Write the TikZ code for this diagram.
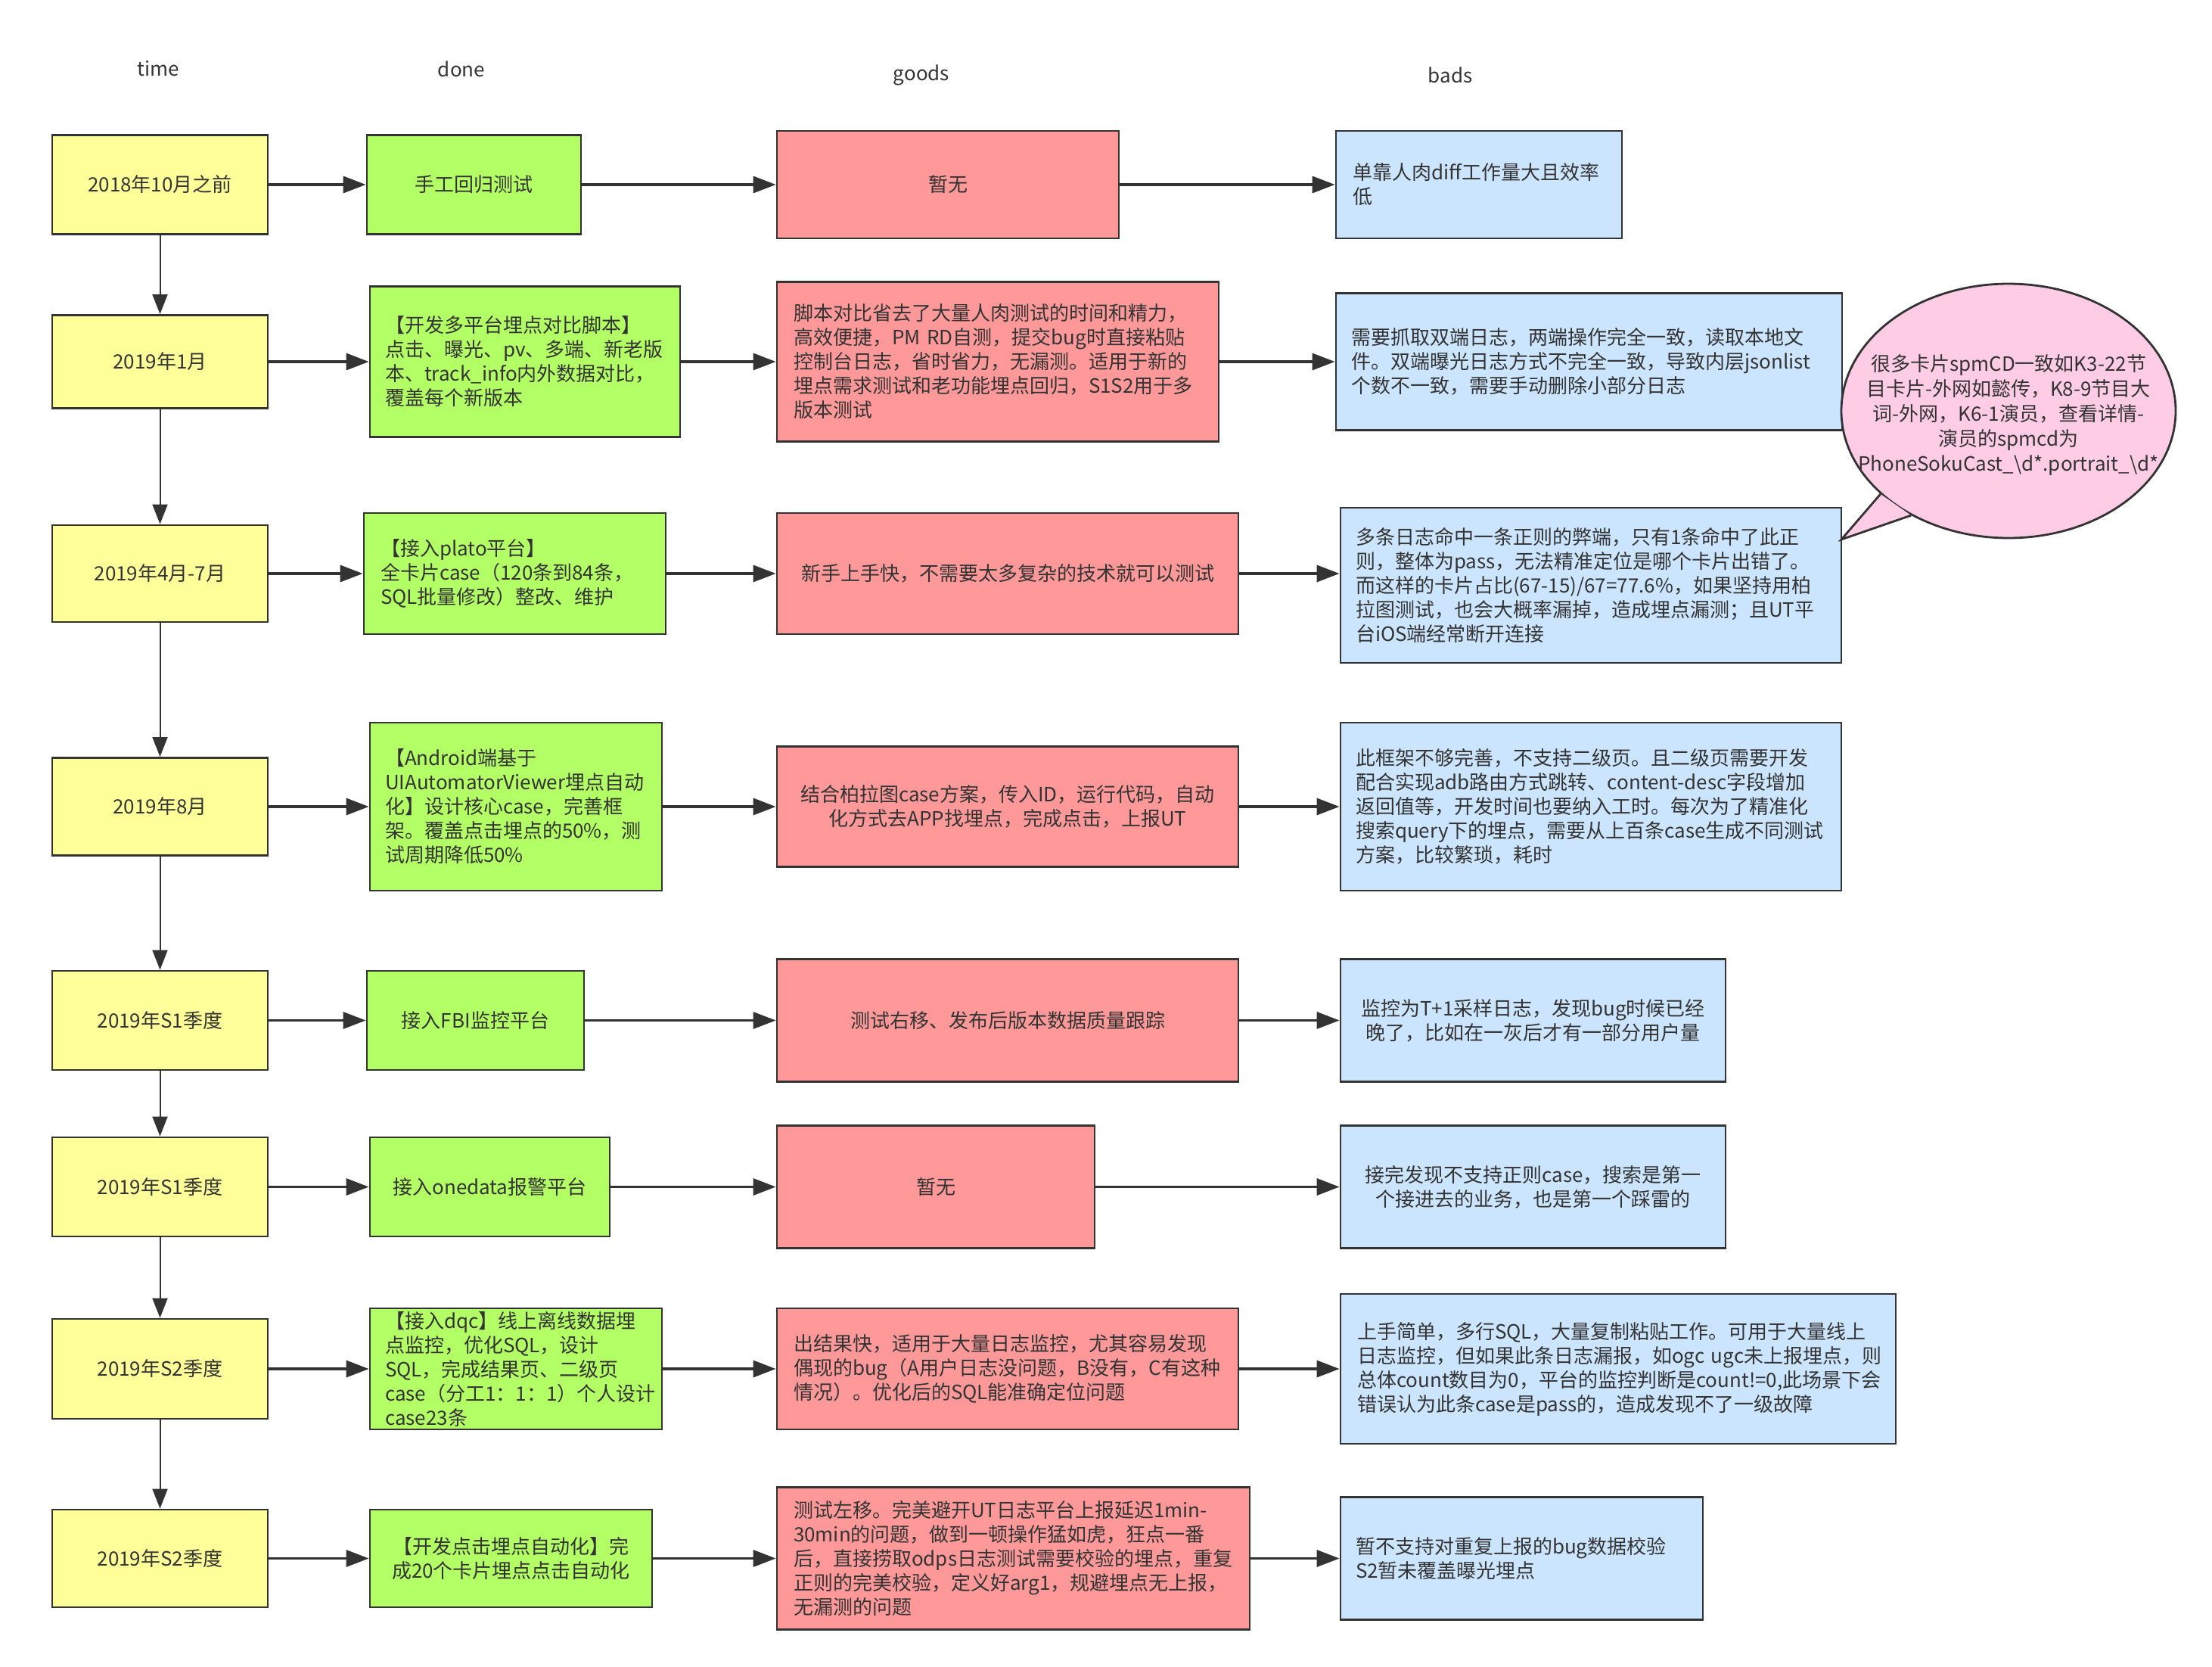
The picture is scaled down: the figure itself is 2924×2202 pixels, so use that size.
\documentclass[tikz,border=0pt]{standalone}
\usepackage{fontspec}
\setmainfont{Noto Sans CJK SC}
\usetikzlibrary{arrows.meta,shapes.geometric}
\definecolor{ink}{HTML}{333333}
\definecolor{cyellow}{HTML}{FFFF99}
\definecolor{cgreen}{HTML}{B3FF66}
\definecolor{cred}{HTML}{FF9999}
\definecolor{cblue}{HTML}{CCE5FF}
\definecolor{cpink}{HTML}{FFCCE6}
\begin{document}
\begin{tikzpicture}[x=0.5pt,y=-0.5pt,
  box/.style={draw=ink, line width=1.4pt, text=ink, inner sep=0pt, font=\fontsize{13pt}{16pt}\selectfont, align=center},
  yelbox/.style={box, fill=cyellow},
  grnbox/.style={box, fill=cgreen},
  redbox/.style={box, fill=cred},
  blubox/.style={box, fill=cblue},
  hdr/.style={text=ink, font=\fontsize{13pt}{16pt}\selectfont},
  harr/.style={draw=ink, line width=1.7pt, -{Triangle[length=15pt,width=11pt]}},
  varr/.style={draw=ink, line width=1pt, -{Triangle[length=13pt,width=10pt]}},
]
\fill[white] (0,0) rectangle (2924,2202);
\useasboundingbox (0,0) rectangle (2924,2202);

% headers
\node[hdr] (h1) at (209,91) {time};
\node[hdr] (h2) at (610,91) {done};
\node[hdr] (h3) at (1218,99) {goods};
\node[hdr] (h4) at (1917,99) {bads};

% row 1
\node[yelbox, minimum width=142.5pt, minimum height=65.5pt] (t1) at (211.5,244) {2018年10月之前};
\node[grnbox, minimum width=141.5pt, minimum height=65.5pt] (d1) at (626.5,244) {手工回归测试};
\node[redbox, minimum width=226pt, minimum height=71pt] (g1) at (1253,244) {暂无};
\node[blubox, minimum width=189pt, minimum height=71pt, align=left, text width=167pt] (b1) at (1955,244) {单靠人肉diff工作量大且效率\\低};

% row 2
\node[yelbox, minimum width=142.5pt, minimum height=61.5pt] (t2) at (211.5,478) {2019年1月};
\node[grnbox, minimum width=205pt, minimum height=99.5pt, align=left, text width=185pt] (d2) at (694,478) {【开发多平台埋点对比脚本】\\点击、曝光、pv、多端、新老版\\本、track\_info内外数据对比，\\覆盖每个新版本};
\node[redbox, minimum width=292pt, minimum height=105.5pt, align=left, text width=270pt] (g2) at (1319,478) {脚本对比省去了大量人肉测试的时间和精力，\\高效便捷，PM~RD自测，提交bug时直接粘贴\\控制台日志，省时省力，无漏测。适用于新的\\埋点需求测试和老功能埋点回归，S1S2用于多\\版本测试};
\node[blubox, minimum width=334.5pt, minimum height=90.5pt, align=left, text width=314pt] (b2) at (2100.5,478) {需要抓取双端日志，两端操作完全一致，读取本地文\\件。双端曝光日志方式不完全一致，导致内层jsonlist\\个数不一致，需要手动删除小部分日志};

% row 3
\node[yelbox, minimum width=142.5pt, minimum height=64pt] (t3) at (211.5,758) {2019年4月-7月};
\node[grnbox, minimum width=199.5pt, minimum height=80pt, align=left, text width=177.5pt] (d3) at (680.5,758) {【接入plato平台】\\全卡片case（120条到84条，\\SQL批量修改）整改、维护};
\node[redbox, minimum width=305pt, minimum height=80pt] (g3) at (1332,758) {新手上手快，不需要太多复杂的技术就可以测试};
\node[blubox, minimum width=331pt, minimum height=102.5pt, align=left, text width=311pt] (b3) at (2103,773.5) {多条日志命中一条正则的弊端，只有1条命中了此正\\则，整体为pass，无法精准定位是哪个卡片出错了。\\而这样的卡片占比(67-15)/67=77.6\%，如果坚持用柏\\拉图测试，也会大概率漏掉，造成埋点漏测；且UT平\\台iOS端经常断开连接};

% speech bubble
\node[ellipse, draw=ink, line width=1.4pt, fill=cpink, minimum width=221pt, minimum height=168pt, inner sep=0pt] (bub) at (2655,543) {};
\coordinate (tip) at (2434,713);
\fill[cpink] (tip) -- (bub.213) -- (bub.227) -- cycle;
\draw[ink, line width=1.4pt, line join=miter] (bub.213) -- (tip) -- (bub.227);
\node[text=ink, font=\fontsize{13pt}{16.5pt}\selectfont, align=center, inner sep=0pt] (bubtxt) at (2655,549) {很多卡片spmCD一致如K3-22节\\目卡片-外网如懿传，K8-9节目大\\词-外网，K6-1演员，查看详情-\\演员的spmcd为\\PhoneSokuCast\_\textbackslash d*.portrait\_\textbackslash d*};

% row 4
\node[yelbox, minimum width=142.5pt, minimum height=64.5pt] (t4) at (211.5,1066) {2019年8月};
\node[grnbox, minimum width=193pt, minimum height=111pt, align=left, text width=173pt] (d4) at (682,1066) {【Android端基于\\UIAutomatorViewer埋点自动\\化】设计核心case，完善框\\架。覆盖点击埋点的50\%，测\\试周期降低50\%};
\node[redbox, minimum width=305pt, minimum height=79.5pt] (g4) at (1332,1066) {结合柏拉图case方案，传入ID，运行代码，自动\\化方式去APP找埋点，完成点击，上报UT};
\node[blubox, minimum width=331pt, minimum height=111pt, align=left, text width=311pt] (b4) at (2103,1066) {此框架不够完善，不支持二级页。且二级页需要开发\\配合实现adb路由方式跳转、content-desc字段增加\\返回值等，开发时间也要纳入工时。每次为了精准化\\搜索query下的埋点，需要从上百条case生成不同测试\\方案，比较繁琐，耗时};

% row 5
\node[yelbox, minimum width=142.5pt, minimum height=65.5pt] (t5) at (211.5,1348.5) {2019年S1季度};
\node[grnbox, minimum width=143.5pt, minimum height=65.5pt] (d5) at (628.5,1348.5) {接入FBI监控平台};
\node[redbox, minimum width=305pt, minimum height=81pt] (g5) at (1332,1348.5) {测试右移、发布后版本数据质量跟踪};
\node[blubox, minimum width=254.5pt, minimum height=81pt] (b5) at (2026.5,1348.5) {监控为T+1采样日志，发现bug时候已经\\晚了，比如在一灰后才有一部分用户量};

% row 6
\node[yelbox, minimum width=142.5pt, minimum height=65.5pt] (t6) at (211.5,1568.5) {2019年S1季度};
\node[grnbox, minimum width=158.5pt, minimum height=65.5pt] (d6) at (647.5,1568.5) {接入onedata报警平台};
\node[redbox, minimum width=210pt, minimum height=81pt] (g6) at (1237,1568.5) {暂无};
\node[blubox, minimum width=254.5pt, minimum height=81pt] (b6) at (2026.5,1568.5) {接完发现不支持正则case，搜索是第一\\个接进去的业务，也是第一个踩雷的};

% row 7
\node[yelbox, minimum width=142.5pt, minimum height=66pt] (t7) at (211.5,1809) {2019年S2季度};
\node[grnbox, minimum width=193pt, minimum height=80pt, align=left, text width=173pt] (d7) at (682,1809) {【接入dqc】线上离线数据埋\\点监控，优化SQL，设计\\SQL，完成结果页、二级页\\case（分工1：1：1）个人设计\\case23条};
\node[redbox, minimum width=305pt, minimum height=80pt, align=left, text width=283pt] (g7) at (1332,1809) {出结果快，适用于大量日志监控，尤其容易发现\\偶现的bug（A用户日志没问题，B没有，C有这种\\情况）。优化后的SQL能准确定位问题};
\node[blubox, minimum width=367pt, minimum height=99pt, align=left, text width=345pt] (b7) at (2139,1809) {上手简单，多行SQL，大量复制粘贴工作。可用于大量线上\\日志监控，但如果此条日志漏报，如ogc~ugc未上报埋点，则\\总体count数目为0，平台的监控判断是count!=0,此场景下会\\错误认为此条case是pass的，造成发现不了一级故障};

% row 8
\node[yelbox, minimum width=142.5pt, minimum height=64.5pt] (t8) at (211.5,2059.5) {2019年S2季度};
\node[grnbox, minimum width=186.5pt, minimum height=64.5pt] (d8) at (675.5,2059.5) {【开发点击埋点自动化】完\\成20个卡片埋点点击自动化};
\node[redbox, minimum width=312.5pt, minimum height=94pt, align=left, text width=290.5pt] (g8) at (1339.5,2059.5) {测试左移。完美避开UT日志平台上报延迟1min-\\30min的问题，做到一顿操作猛如虎，狂点一番\\后，直接捞取odps日志测试需要校验的埋点，重复\\正则的完美校验，定义好arg1，规避埋点无上报，\\无漏测的问题};
\node[blubox, minimum width=239.5pt, minimum height=81pt, align=left, text width=219.5pt] (b8) at (2011.5,2059.5) {暂不支持对重复上报的bug数据校验\\S2暂未覆盖曝光埋点};

% vertical arrows
\foreach \a/\b in {t1/t2,t2/t3,t3/t4,t4/t5,t5/t6,t6/t7,t7/t8}
  \draw[varr] (\a.south) -- (\b.north);

% horizontal arrows
\foreach \r in {1,...,8}{
  \draw[harr] (t\r.east) -- (t\r.east -| d\r.west);
  \draw[harr] (d\r.east) -- (d\r.east -| g\r.west);
  \draw[harr] (g\r.east) -- (g\r.east -| b\r.west);
}
\end{tikzpicture}
\end{document}
